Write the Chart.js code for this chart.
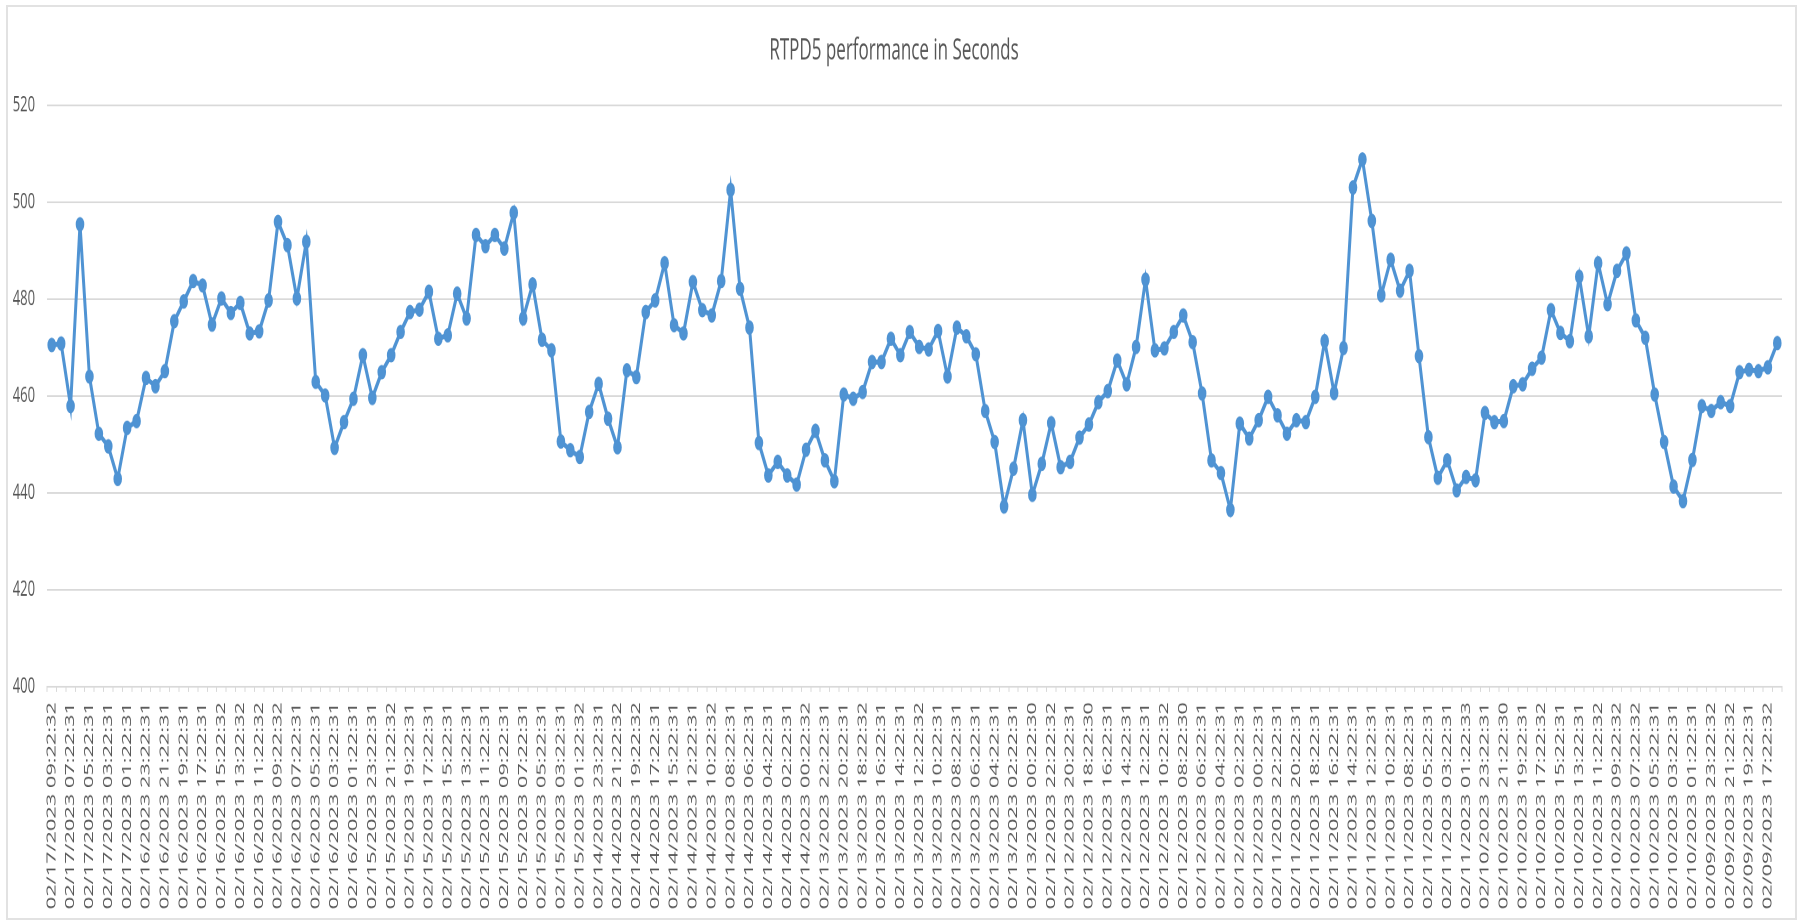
<!DOCTYPE html>
<html lang="en">

<head>
    <meta charset="UTF-8">
    <title>RTPD5 performance in Seconds</title>
    <script src="https://cdn.jsdelivr.net/npm/chart.js"></script>
    <style>
        body {
            margin: 0;
            background: #ffffff;
        }

        .moldura {
            position: absolute;
            left: 6px;
            top: 5px;
            width: 1787px;
            height: 911px;
            border: 2px solid #e2e2e2;
        }

        /* the original picture is stretched vertically, so the chart is drawn flat and scaled */
        .esticado {
            position: absolute;
            left: 0;
            top: 0;
            width: 1801px;
            height: 543px;
            transform: scaleY(1.6998);
            transform-origin: 0 0;
        }
    </style>
</head>

<body>
    <div class="moldura"></div>
    <div class="esticado">
        <canvas id="canvas_grafico" width="1801" height="543"></canvas>
    </div>
</body>

</html>

<script>
    // shown dates, one for every other point
    var rotulos = [
        '02/17/2023 09:22:32', '02/17/2023 07:22:31', '02/17/2023 05:22:31', '02/17/2023 03:22:31', '02/17/2023 01:22:31',
        '02/16/2023 23:22:31', '02/16/2023 21:22:31', '02/16/2023 19:22:31', '02/16/2023 17:22:31', '02/16/2023 15:22:32',
        '02/16/2023 13:22:32', '02/16/2023 11:22:32', '02/16/2023 09:22:32', '02/16/2023 07:22:31', '02/16/2023 05:22:31',
        '02/16/2023 03:22:31', '02/16/2023 01:22:31',
        '02/15/2023 23:22:31', '02/15/2023 21:22:32', '02/15/2023 19:22:31', '02/15/2023 17:22:31', '02/15/2023 15:22:31',
        '02/15/2023 13:22:31', '02/15/2023 11:22:31', '02/15/2023 09:22:31', '02/15/2023 07:22:31', '02/15/2023 05:22:31',
        '02/15/2023 03:22:31', '02/15/2023 01:22:32',
        '02/14/2023 23:22:31', '02/14/2023 21:22:32', '02/14/2023 19:22:32', '02/14/2023 17:22:31', '02/14/2023 15:22:31',
        '02/14/2023 12:22:31', '02/14/2023 10:22:32', '02/14/2023 08:22:31', '02/14/2023 06:22:31', '02/14/2023 04:22:31',
        '02/14/2023 02:22:31', '02/14/2023 00:22:32',
        '02/13/2023 22:22:31', '02/13/2023 20:22:31', '02/13/2023 18:22:32', '02/13/2023 16:22:31', '02/13/2023 14:22:31',
        '02/13/2023 12:22:32', '02/13/2023 10:22:31', '02/13/2023 08:22:31', '02/13/2023 06:22:31', '02/13/2023 04:22:31',
        '02/13/2023 02:22:31', '02/13/2023 00:22:30',
        '02/12/2023 22:22:32', '02/12/2023 20:22:31', '02/12/2023 18:22:30', '02/12/2023 16:22:31', '02/12/2023 14:22:31',
        '02/12/2023 12:22:31', '02/12/2023 10:22:32', '02/12/2023 08:22:30', '02/12/2023 06:22:31', '02/12/2023 04:22:31',
        '02/12/2023 02:22:31', '02/12/2023 00:22:31',
        '02/11/2023 22:22:31', '02/11/2023 20:22:31', '02/11/2023 18:22:31', '02/11/2023 16:22:31', '02/11/2023 14:22:31',
        '02/11/2023 12:22:31', '02/11/2023 10:22:31', '02/11/2023 08:22:31', '02/11/2023 05:22:31', '02/11/2023 03:22:31',
        '02/11/2023 01:22:33',
        '02/10/2023 23:22:31', '02/10/2023 21:22:30', '02/10/2023 19:22:31', '02/10/2023 17:22:32', '02/10/2023 15:22:31',
        '02/10/2023 13:22:31', '02/10/2023 11:22:32', '02/10/2023 09:22:32', '02/10/2023 07:22:32', '02/10/2023 05:22:31',
        '02/10/2023 03:22:31', '02/10/2023 01:22:31',
        '02/09/2023 23:22:32', '02/09/2023 21:22:32', '02/09/2023 19:22:31', '02/09/2023 17:22:32'
    ];

    // seconds
    var segundos = [
        470.5, 470.8, 457.9, 495.4, 464.0, 452.2, 449.6, 442.9, 453.4, 454.8,
        463.7, 462.0, 465.1, 475.4, 479.5, 483.7, 482.8, 474.7, 480.1, 477.1,
        479.2, 472.9, 473.3, 479.7, 495.9, 491.1, 480.1, 491.8, 462.9, 460.1,
        449.3, 454.6, 459.4, 468.4, 459.6, 464.9, 468.4, 473.2, 477.3, 477.8,
        481.5, 471.8, 472.5, 481.1, 476.0, 493.2, 490.9, 493.2, 490.4, 497.8,
        476.0, 483.0, 471.6, 469.4, 450.6, 448.8, 447.4, 456.7, 462.5, 455.3,
        449.4, 465.3, 463.9, 477.3, 479.7, 487.4, 474.6, 472.9, 483.5, 477.7,
        476.6, 483.7, 502.5, 482.1, 474.1, 450.3, 443.6, 446.4, 443.6, 441.7,
        448.9, 452.8, 446.7, 442.4, 460.3, 459.4, 460.8, 467.0, 467.0, 471.8,
        468.4, 473.2, 470.1, 469.6, 473.4, 464.0, 474.1, 472.3, 468.6, 456.9,
        450.5, 437.2, 445.0, 455.0, 439.6, 446.0, 454.4, 445.3, 446.4, 451.4,
        454.1, 458.7, 461.0, 467.3, 462.4, 470.1, 484.0, 469.4, 469.8, 473.2,
        476.6, 471.1, 460.5, 446.7, 444.1, 436.5, 454.3, 451.2, 455.0, 459.8,
        456.0, 452.2, 455.0, 454.6, 459.8, 471.3, 460.6, 469.9, 503.0, 508.8,
        496.1, 480.8, 488.1, 481.7, 485.8, 468.2, 451.5, 443.1, 446.7, 440.5,
        443.3, 442.6, 456.5, 454.6, 454.8, 462.0, 462.4, 465.6, 467.9, 477.7,
        473.0, 471.3, 484.6, 472.3, 487.4, 478.9, 485.8, 489.4, 475.6, 472.0,
        460.3, 450.5, 441.3, 438.3, 446.8, 457.9, 456.9, 458.7, 457.9, 464.9,
        465.4, 465.1, 465.9, 470.9
    ];

    var eixo_y = [400, 420, 440, 460, 480, 500, 520];

    // one category per point, only the even ones carry a date
    var categorias = [];
    for (var i = 0; i < segundos.length; i++) {
        categorias.push(i % 2 == 0 ? rotulos[i / 2] : '');
    }

    var cinza = '#555555';
    var linha_grade = '#d9d9d9';
    var azul = '#4f93d3';

    const ctx = document.getElementById('canvas_grafico').getContext('2d');
    const myChart = new Chart(ctx, {
        type: 'line',
        data: {
            labels: categorias,
            datasets: [{
                label: 'RTPD5',
                data: segundos,
                borderColor: azul,
                backgroundColor: azul,
                borderWidth: 3,
                pointRadius: 3.8,
                pointBorderWidth: 1,
                pointBackgroundColor: azul,
                pointBorderColor: azul,
                tension: 0
            }]
        },
        options: {
            responsive: false,
            devicePixelRatio: 2,
            animation: false,
            layout: {
                padding: { left: 6, right: 19, top: 0, bottom: 0 }
            },
            plugins: {
                legend: { display: false },
                tooltip: { enabled: false },
                title: {
                    display: true,
                    text: 'RTPD5 performance in Seconds',
                    color: cinza,
                    font: { family: 'Open Sans', size: 17, weight: 'normal' },
                    padding: { top: 20, bottom: 21.4 }
                }
            },
            scales: {
                x: {
                    offset: true,
                    grid: {
                        offset: true,
                        drawOnChartArea: false,
                        color: linha_grade,
                        tickLength: 3
                    },
                    border: { color: linha_grade },
                    ticks: {
                        autoSkip: false,
                        minRotation: 90,
                        maxRotation: 90,
                        padding: 6,
                        color: cinza,
                        font: { family: 'Open Sans', size: 12.8 }
                    },
                    afterFit: function (escala) { escala.height = 139; }
                },
                y: {
                    min: eixo_y[0],
                    max: eixo_y[eixo_y.length - 1],
                    afterBuildTicks: function (escala) {
                        escala.ticks = eixo_y.map(function (v) { return { value: v }; });
                    },
                    ticks: {
                        padding: 12,
                        color: cinza,
                        font: { family: 'Open Sans', size: 13 }
                    },
                    grid: { color: linha_grade, drawTicks: false },
                    border: { display: false },
                    afterFit: function (escala) { escala.width = 41; }
                }
            }
        }
    });
</script>
